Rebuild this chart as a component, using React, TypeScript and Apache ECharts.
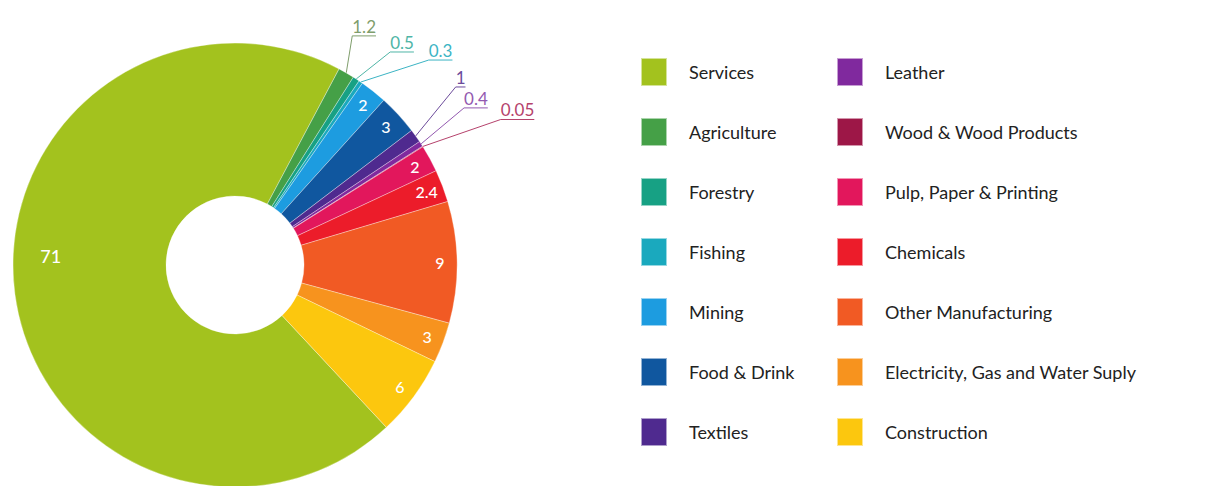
import React, { useEffect, useRef } from "react";
import * as echarts from "echarts";

// ---- data ----
const sectors = [
  "Services",
  "Agriculture",
  "Forestry",
  "Fishing",
  "Mining",
  "Food & Drink",
  "Textiles",
  "Leather",
  "Wood & Wood Products",
  "Pulp, Paper & Printing",
  "Chemicals",
  "Other Manufacturing",
  "Electricity, Gas and Water Suply",
  "Construction",
];
const shares = [71, 1.2, 0.5, 0.3, 2, 3, 1, 0.4, 0.05, 2, 2.4, 9, 3, 6];
const valueLabels = ["71", "1.2", "0.5", "0.3", "2", "3", "1", "0.4", "0.05", "2", "2.4", "9", "3", "6"];
const calloutSectors = ["Agriculture", "Forestry", "Fishing", "Textiles", "Leather", "Wood & Wood Products"];

// ---- styles ----
const palette = [
  "#a3c21e", "#45a047", "#17a184", "#1aa9be", "#1d9ce0", "#10579f", "#4f2a8f",
  "#80299e", "#9d1747", "#e2175c", "#ec1c2a", "#f15a24", "#f7931e", "#fcc70e",
];
const calloutTextColor: Record<string, string> = {
  Agriculture: "#7f9e6c",
  Forestry: "#4fb5a6",
  Fishing: "#3cb4c4",
  Textiles: "#6c4b9b",
  Leather: "#9359b0",
  "Wood & Wood Products": "#b5426c",
};
// elbow offsets of callout leader lines, relative to the slice edge point
const calloutOffset: Record<string, [number, number]> = {
  Agriculture: [6, -37],
  Forestry: [34, -27],
  Fishing: [68, -22],
  Textiles: [40, -49],
  Leather: [43, -36],
  "Wood & Wood Products": [78, -27],
};
const FONT = "Lato";
const CENTER = [235, 265];
const START = 313;

export default function App() {
  const ref = useRef<HTMLDivElement>(null);
  useEffect(() => {
    if (!ref.current) return;
    const chart = echarts.init(ref.current, undefined, { renderer: "svg" });

    const mainData = sectors.map((name, i) => {
      const isCallout = calloutSectors.includes(name);
      return {
        name,
        value: shares[i],
        itemStyle: { color: palette[i] },
        label: isCallout
          ? { show: true, color: calloutTextColor[name] }
          : { show: false },
        labelLine: isCallout
          ? { show: true, lineStyle: { color: calloutTextColor[name], width: 1 } }
          : { show: false },
      };
    });
    const overlayData = sectors.map((name, i) => ({
      name,
      value: shares[i],
      itemStyle: { color: "rgba(0,0,0,0)" },
      label: { show: !calloutSectors.includes(name) },
    }));

    const legendBase = {
      orient: "vertical",
      icon: "rect",
      itemWidth: 26,
      itemHeight: 28,
      itemGap: 30,
      padding: 0,
      selectedMode: false,
      textStyle: {
        fontFamily: FONT,
        fontSize: 18,
        lineHeight: 28,
        color: "#222222",
        padding: [0, 0, 0, 17],
      },
    };

    chart.setOption({
      animation: false,
      legend: [
        { ...legendBase, data: sectors.slice(0, 7), left: 640, top: 57 },
        { ...legendBase, data: sectors.slice(7), left: 836, top: 57 },
      ],
      series: [
        {
          type: "pie",
          center: CENTER,
          radius: [69, 222],
          startAngle: START,
          clockwise: true,
          avoidLabelOverlap: false,
          silent: true,
          itemStyle: { borderColor: "rgba(255,255,255,0.55)", borderWidth: 0.6 },
          label: {
            position: "outside",
            fontFamily: FONT,
            fontSize: 17,
            formatter: (p: any) => valueLabels[p.dataIndex],
          },
          labelLine: { length: 20, length2: 10 },
          labelLayout: (p: any) => {
            const name = sectors[p.dataIndex];
            const off = calloutOffset[name];
            if (!off || !p.labelLinePoints) return {};
            const p0 = p.labelLinePoints[0];
            const ex = p0[0] + off[0];
            const ey = p0[1] + off[1];
            return {
              x: ex,
              y: ey - 1,
              align: "left",
              verticalAlign: "bottom",
              labelLinePoints: [
                [p0[0], p0[1]],
                [ex, ey],
                [ex + p.labelRect.width, ey],
              ],
            };
          },
          data: mainData,
        },
        {
          type: "pie",
          center: CENTER,
          radius: [182, 222],
          startAngle: START,
          clockwise: true,
          avoidLabelOverlap: false,
          silent: true,
          z: 3,
          label: {
            position: "inside",
            color: "#ffffff",
            fontFamily: FONT,
            fontSize: 16,
            fontWeight: 500,
            formatter: (p: any) => valueLabels[p.dataIndex],
          },
          labelLine: { show: false },
          labelLayout: (p: any) =>
            sectors[p.dataIndex] === "Services" ? { dx: 19, dy: -36, fontSize: 18 } : {},
          data: overlayData,
        },
      ],
    });
    return () => chart.dispose();
  }, []);
  return (
    <div
      ref={ref}
      style={{ position: "absolute", left: 0, top: 0, width: 1206, height: 486, background: "#fff" }}
    />
  );
}
